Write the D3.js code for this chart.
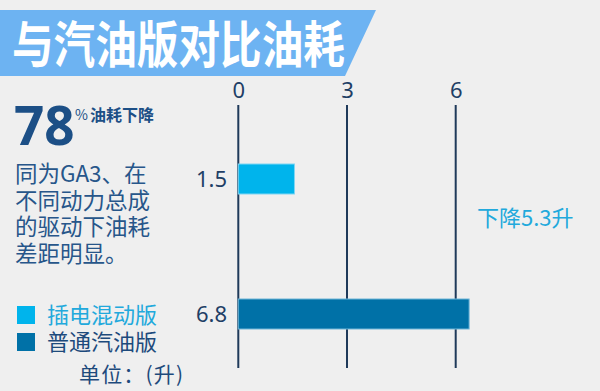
<!DOCTYPE html>
<html>
<head>
<meta charset="utf-8">
<script src="https://cdn.jsdelivr.net/npm/d3@7"></script>
<style>
  html, body { margin: 0; padding: 0; background: #efefef; }
  svg { display: block; font-family: "Noto Sans CJK SC", "Noto Sans", sans-serif; }
</style>
</head>
<body>
<div id="chart"></div>
<script>

// chart data
var title = "与汽油版对比油耗";
var categories = ["1.5", "6.8"];          // labels shown beside bars (L/100km)
var barValues = [1.55, 6.37];             // bar lengths as drawn against the axis
var barColors = ["#00b4ec", "#0071a7"];
var tickValues = [0, 3, 6];
var legendNames = ["插电混动版", "普通汽油版"];
var legendTextColors = ["#22a9dc", "#1d4a7c"];
var introLines = ["同为GA3、在", "不同动力总成", "的驱动下油耗", "差距明显。"];
var dropNote = "下降5.3升";

var width = 600, height = 391;

var svg = d3.select("#chart").append("svg")
    .attr("width", width)
    .attr("height", height);

svg.append("rect")
    .attr("width", width)
    .attr("height", height)
    .attr("fill", "#efefef");

// title banner with slanted right edge
svg.append("path")
    .attr("d", "M0,10 L376,10 L345,76 L0,76 Z")
    .attr("fill", "#6db3f2");

svg.append("text")
    .attr("x", 12)
    .attr("y", 63)
    .attr("textLength", 333)
    .attr("lengthAdjust", "spacingAndGlyphs")
    .style("font-size", "50px")
    .style("font-weight", "700")
    .style("fill", "#ffffff")
    .text(title);

// left side text: "78% 油耗下降" as one line
var big = svg.append("text")
    .attr("x", 14)
    .attr("y", 145)
    .style("fill", "#1c4f86");

big.append("tspan")
    .style("font-family", "'Open Sans', 'Noto Sans', sans-serif")
    .style("font-size", "53px")
    .style("font-weight", "700")
    .text("78");

big.append("tspan")
    .attr("x", 75)
    .attr("y", 120)
    .style("font-size", "14px")
    .text("%");

big.append("tspan")
    .attr("x", 90)
    .attr("y", 121)
    .style("font-size", "16px")
    .style("font-weight", "700")
    .text("油耗下降");

// intro paragraph, one text with a tspan per line
svg.append("text")
    .attr("class", "intro")
    .style("font-size", "22.5px")
    .style("fill", "#27568a")
  .selectAll("tspan")
    .data(introLines)
    .enter().append("tspan")
      .attr("x", 15)
      .attr("y", function(d, i) { return 182 + i * 26.5; })
      .text(function(d) { return d; });

// legend
var legend = svg.selectAll(".legend")
    .data(legendNames)
    .enter().append("g")
      .attr("class", "legend")
      .attr("transform", function(d, i) { return "translate(17," + (306 + i * 27) + ")"; });

legend.append("rect")
    .attr("width", 18)
    .attr("height", 18)
    .attr("fill", function(d, i) { return barColors[i]; });

legend.append("text")
    .attr("x", 30)
    .attr("y", 17)
    .style("font-size", "22px")
    .style("fill", function(d, i) { return legendTextColors[i]; })
    .text(function(d) { return d; });

svg.append("text")
    .attr("x", 79)
    .attr("y", 382)
    .attr("textLength", 104)
    .attr("lengthAdjust", "spacing")
    .style("font-size", "21px")
    .style("fill", "#1d4a7c")
    .text("单位：(升)");

// scales
var x = d3.scaleLinear().domain([0, 6]).range([238.3, 455.7]);
var y = d3.scalePoint().domain(categories).range([179, 314]);
var barH = 30;

// vertical grid lines from the axis
var g = svg.append("g");

g.selectAll(".grid")
    .data(tickValues)
    .enter().append("line")
      .attr("class", "grid")
      .attr("x1", function(d) { return x(d); })
      .attr("x2", function(d) { return x(d); })
      .attr("y1", 105)
      .attr("y2", 368)
      .attr("stroke", "#1f3a5a")
      .attr("stroke-width", 2);

// top axis labels
var axis = g.append("g")
    .attr("transform", "translate(0,98)")
    .call(d3.axisTop(x).tickValues(tickValues).tickFormat(d3.format("d")).tickSize(0).tickPadding(0));

axis.select(".domain").remove();
axis.selectAll("text")
    .style("font-family", "'Noto Sans', 'Open Sans', sans-serif")
    .style("font-size", "22px")
    .attr("fill", "#1f3f66")
    .attr("dy", "0");

// bars
g.selectAll(".bar")
    .data(barValues)
    .enter().append("rect")
      .attr("class", "bar")
      .attr("x", x(0))
      .attr("y", function(d, i) { return y(categories[i]) - barH / 2; })
      .attr("width", function(d) { return x(d) - x(0); })
      .attr("height", barH)
      .attr("fill", function(d, i) { return barColors[i]; })
      .attr("stroke", function(d, i) { return i === 0 ? "#7fd6f4" : "#6fb6d8"; })
      .attr("stroke-width", 1);

// category labels
g.selectAll(".cat")
    .data(categories)
    .enter().append("text")
      .attr("class", "cat")
      .attr("x", 227)
      .attr("y", function(d) { return y(d) + 8; })
      .attr("text-anchor", "end")
      .style("font-family", "'Noto Sans', 'Open Sans', sans-serif")
      .style("font-size", "22px")
      .style("fill", "#1f3f66")
      .text(function(d) { return d; });

// drop annotation
svg.append("text")
    .attr("x", 477)
    .attr("y", 226)
    .style("font-size", "22px")
    .style("fill", "#22a9dc")
    .text(dropNote);

</script>
</body>
</html>
